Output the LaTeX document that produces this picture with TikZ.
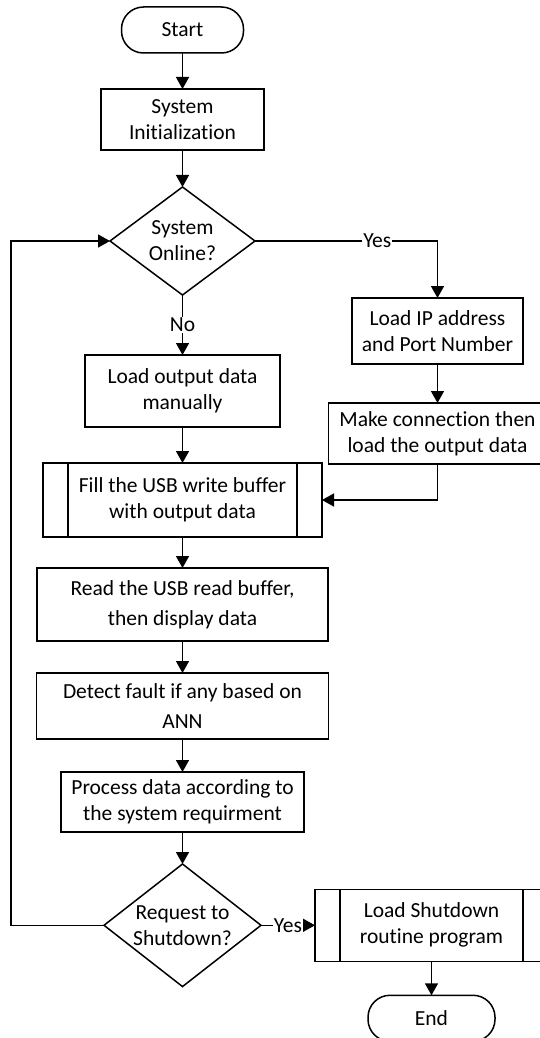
\documentclass[tikz,border=0pt]{standalone}
\usepackage{fontspec}
\setmainfont{Carlito}[Ligatures=NoCommon]
\usepackage{tikz}
\usetikzlibrary{arrows.meta,positioning,shapes.geometric}

\begin{document}
\begin{tikzpicture}[x=1pt,y=1pt,
  font=\fontsize{21.5}{26}\selectfont,
  box/.style={draw,line width=1.5pt,align=center,inner sep=2pt,outer sep=0pt},
  term/.style={box,rounded corners=22pt,minimum width=122pt,minimum height=46pt},
  decision/.style={draw,line width=1.5pt,diamond,align=center,inner sep=-4pt,
    outer sep=0pt,minimum width=#1},
  subbox/.style={box,path picture={
    \draw[line width=1.5pt]
      ([xshift=25pt]path picture bounding box.north west) -- ([xshift=25pt]path picture bounding box.south west)
      ([xshift=-25pt]path picture bounding box.north east) -- ([xshift=-25pt]path picture bounding box.south east);}},
  arr/.style={-{Triangle[length=12pt,width=13pt]},line width=1.5pt},
  lbl/.style={fill=white,inner sep=1pt}
]
\useasboundingbox (0,0) rectangle (539,-1038);
\node[term] (start) at (182.5,-30) {Start};
\node[box,minimum width=163pt,minimum height=61pt,below=36pt of start] (init) {System\\Initialization};
\node[decision=145pt,minimum height=108pt,below=37pt of init] (online) {System\\Online?};
\node[box,minimum width=195pt,minimum height=72pt,below=60pt of online] (manual) {Load output data\\manually};
\node[subbox,minimum width=279pt,minimum height=74pt,below=36pt of manual] (fill) {Fill the USB write buffer\\with output data};
\node[box,minimum width=291pt,minimum height=73pt,below=31pt of fill] (read) {Read the USB read buffer,\\[4pt]then display data};
\node[box,minimum width=292pt,minimum height=66pt,below=32pt of read] (detect) {Detect fault if any based on\\[4pt]ANN};
\node[box,minimum width=243pt,minimum height=60pt,below=33pt of detect] (process) {Process data according to\\the system requirment};
\node[decision=157pt,minimum height=118pt,below=32pt of process] (shut) {Request to\\Shutdown?};
\node[box,minimum width=171pt,minimum height=66pt,anchor=north west,below right=57pt and 97pt of online.east] (ip) {Load IP address\\and Port Number};
\node[box,minimum width=218pt,minimum height=61pt,below=39pt of ip] (conn) {Make connection then\\load the output data};
\node[subbox,minimum width=233pt,minimum height=72pt,right=54pt of shut] (shutdown) {Load Shutdown\\routine program};
\node[term,minimum width=127pt,below=34pt of shutdown] (end) {End};

\draw[arr] (start) -- (init);
\draw[arr] (init) -- (online);
\draw[arr] (online) -- node[lbl]{No} (manual);
\draw[arr] (online.east) -- node[lbl,pos=0.67]{Yes} (online.east -| ip) -- (ip);
\draw[arr] (ip) -- (conn);
\draw[arr] (conn.south) |- (fill.east);
\draw[arr] (manual) -- (fill);
\draw[arr] (fill) -- (read);
\draw[arr] (read) -- (detect);
\draw[arr] (detect) -- (process);
\draw[arr] (process) -- (shut);
\draw[arr] (shut) -- node[lbl]{Yes} (shutdown);
\draw[arr] (shutdown) -- (end);
\draw[arr] (shut.west) -- ++(-93,0) |- (online.west);
\end{tikzpicture}
\end{document}
